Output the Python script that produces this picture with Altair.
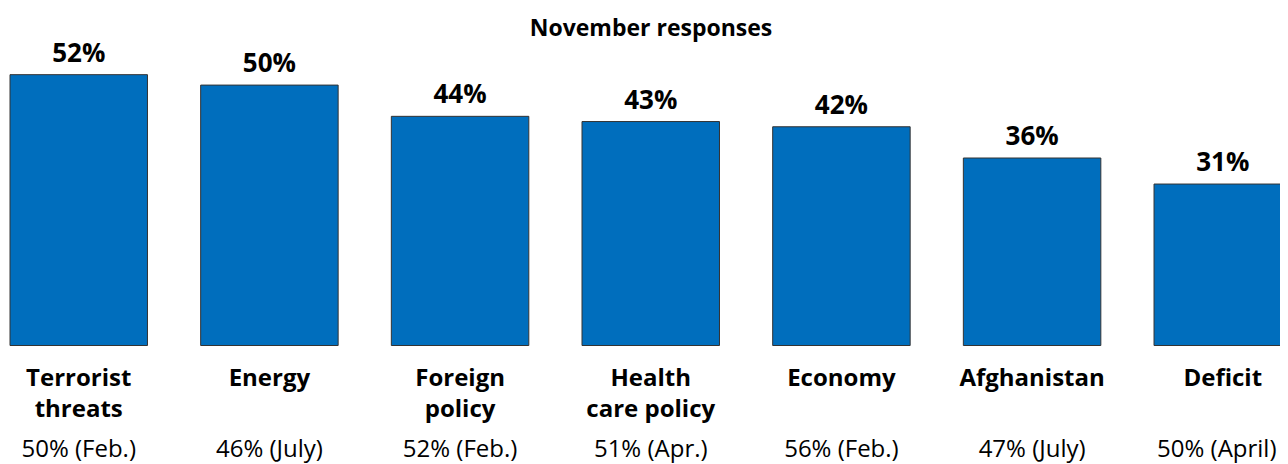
import altair as alt
import pandas as pd

categories = ["Terrorist\nthreats", "Energy", "Foreign\npolicy", "Health\ncare policy",
              "Economy", "Afghanistan", "Deficit"]
november = [52, 50, 44, 43, 42, 36, 31]
earlier = ["50% (Feb.)", "46% (July)", "52% (Feb.)", "51% (Apr.)", "56% (Feb.)",
           "47% (July)", "50% (April)"]

df = pd.DataFrame({"cat": categories, "val": november, "prior": earlier})
df["lbl"] = df["val"].astype(str) + "%"

FONT = "Open Sans"
W, H = 1270, 312.5

x = alt.X("cat:N", sort=None,
          scale=alt.Scale(paddingInner=0.279, paddingOuter=0, range=[0, 1281.5]),
          axis=alt.Axis(title=None, domain=False, ticks=False, tickSize=0,
                        labelAngle=0, labelFont=FONT, labelFontSize=24,
                        labelFontWeight="bold", labelColor="#000000",
                        labelBaseline="alphabetic", labelPadding=39.5,
                        labelLineHeight=31.5, labelLimit=300,
                        labelExpr="split(datum.label, '\\n')"))
y = alt.Y("val:Q", scale=alt.Scale(domain=[0, 60], nice=False), axis=None)

base = alt.Chart(df)
bars = base.mark_bar(color="#006EBD", stroke="#333333", strokeWidth=1).encode(x=x, y=y)
vals = base.mark_text(font=FONT, fontSize=26, fontWeight="bold", color="#000000",
                      baseline="alphabetic", dy=-13).encode(x=x, y=y, text="lbl:N")
prior_main = base.transform_filter(alt.datum.cat != "Deficit").mark_text(
    font=FONT, fontSize=24, color="#000000", baseline="alphabetic"
).encode(x=x, y=alt.value(424), text="prior:N")
prior_last = base.transform_filter(alt.datum.cat == "Deficit").mark_text(
    font=FONT, fontSize=24, color="#000000", baseline="alphabetic", dx=-6
).encode(x=x, y=alt.value(424), text="prior:N")

chart = alt.layer(bars, vals, prior_main, prior_last).properties(
    width=W, height=H,
    title=alt.TitleParams("November responses", font=FONT, fontSize=23,
                          fontWeight="bold", color="#000000", anchor="middle",
                          baseline="alphabetic", offset=0, dx=6, dy=26),
    autosize=alt.AutoSizeParams(type="none"),
    padding={"left": 2, "top": 25, "right": 0, "bottom": 122},
).configure_view(stroke=None)

chart.save("out.html", embed_options={"renderer": "svg", "actions": False})
